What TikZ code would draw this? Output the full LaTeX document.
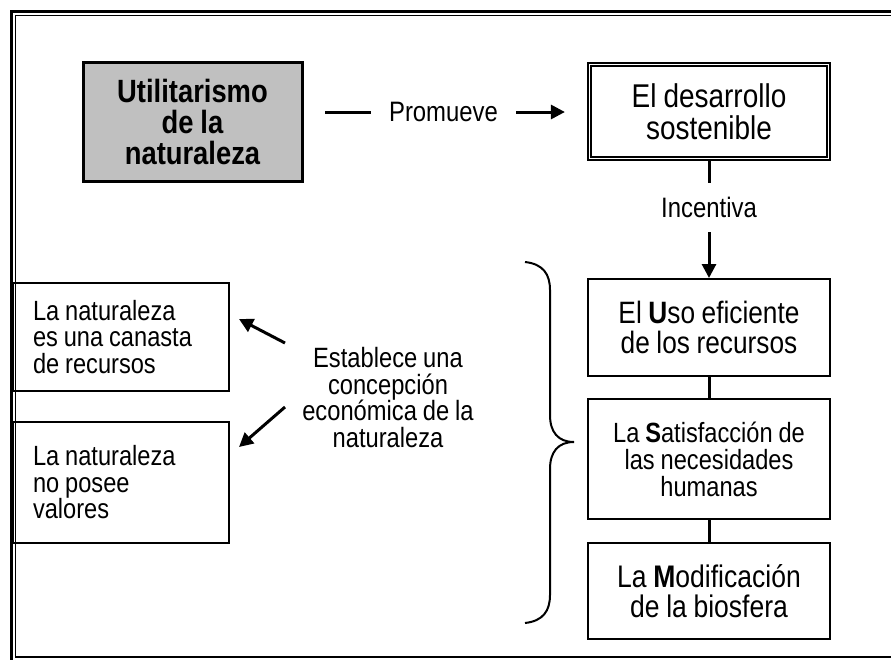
\documentclass[tikz,border=0pt]{standalone}
\usepackage{fontspec}
\setmainfont{Liberation Sans}[FakeStretch=0.85,WordSpace=0.9]
\usetikzlibrary{arrows.meta,calc}
\definecolor{boxgray}{RGB}{192,192,192}
\begin{document}
\begin{tikzpicture}[x=1pt,y=-1pt,
  box/.style={draw, line width=2pt, inner sep=0pt, align=center, font=\fontsize{27.8}{26.5}\selectfont},
  conn/.style={line width=3pt},
  arr/.style={line width=3pt,-{Triangle[length=14pt,width=14pt]}},
  lbl/.style={inner sep=0pt, font=\fontsize{28.1}{27}\selectfont}]
\useasboundingbox (0,0) rectangle (891,659);
\clip (0,0) rectangle (891,659);
% frame
\draw[line width=3pt] (11,700) -- (11,11) -- (900,11);
\draw[line width=1.3pt] (900,15.5) -- (15.5,15.5) -- (15.5,657) -- (900,657);
% main nodes
\node[box, fill=boxgray, line width=3pt, minimum width=219pt, minimum height=119pt,
      font=\bfseries\fontsize{32.2}{31}\selectfont] (util) at (192.5,121.5) {Utilitarismo\\de la\\naturaleza};
\node[box, double, line width=1.2pt, double distance=1.8pt, minimum width=239pt, minimum height=94pt,
      font=\fontsize{32.9}{32}\selectfont] (dev) at (709,111.5) {El desarrollo\\sostenible};
\node[lbl, inner xsep=18pt] (prom) at (443.5,112) {Promueve};
\coordinate (pstart) at (325,112);
\draw[conn] (pstart) -- (prom.west);
\draw[arr] (prom.east) -- ($(dev.west|-prom.east)+(-24,0)$);
\node[lbl, minimum height=49pt] (inc) at (709,207.5) {Incentiva};
\node[box, minimum width=242pt, minimum height=97pt, font=\fontsize{30.9}{30}\selectfont] (uso) at (709,327.5) {El \textbf{U}so eficiente\\de los recursos};
\node[box, minimum width=242pt, minimum height=120pt, font=\fontsize{27.8}{27}\selectfont] (sat) at (709,459) {La \textbf{S}atisfacción de\\las necesidades\\humanas};
\node[box, minimum width=242pt, minimum height=96pt, font=\fontsize{31.2}{30}\selectfont] (mod) at (709,591) {La \textbf{M}odificación\\de la biosfera};
\draw[conn] (dev.south) -- (inc.north);
\draw[arr] (inc.south) -- (uso.north);
\draw[conn] (uso.south) -- (sat.north);
\draw[conn] (sat.south) -- (mod.north);
% left boxes
\node[box, minimum width=216pt, minimum height=108pt, text width=176pt, align=flush left] (nat1) at (121,337) {La naturaleza\\es una canasta\\de recursos};
\node[box, minimum width=216pt, minimum height=121pt, text width=176pt, align=flush left] (nat2) at (121,482.5) {La naturaleza\\no posee\\valores};
\node[lbl, align=center, font=\fontsize{27.9}{26.5}\selectfont] (est) at (388,397.5) {Establece una\\concepción\\económica de la\\naturaleza};
\coordinate (t1) at (285,343);
\coordinate (t2) at (285,407);
\draw[arr] (t1) -- ($(nat1.east)+(9,-18)$);
\draw[arr] (t2) -- ($(nat2.east)+(9,-35.5)$);
% brace
\draw[line width=2pt] (525,262) .. controls (543,264) and (550,274) .. (550,290) -- (550,415)
  .. controls (550,432) and (558,442) .. (574,442)
  .. controls (558,442) and (550,452) .. (550,469) -- (550,595)
  .. controls (550,611) and (543,621) .. (525,623);
\end{tikzpicture}
\end{document}
